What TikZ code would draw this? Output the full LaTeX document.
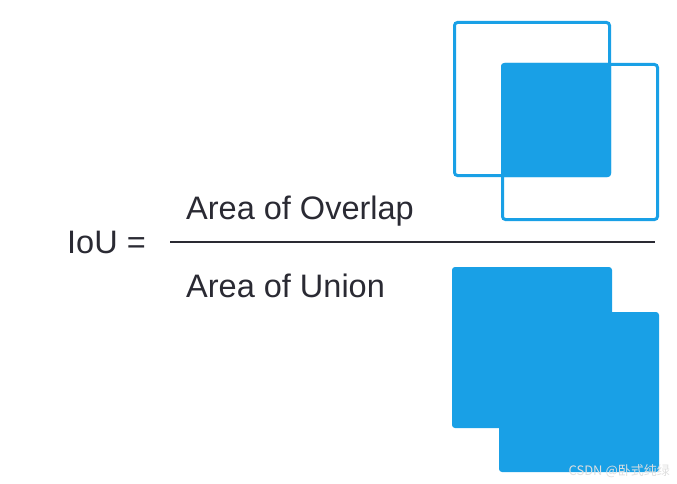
\documentclass[tikz,border=0pt]{standalone}
\usepackage{fontspec}
\setmainfont{Liberation Sans}
\newfontfamily\cjkfont{Noto Sans CJK SC}
\usetikzlibrary{positioning}
\definecolor{ioublue}{HTML}{19A0E6}
\definecolor{inkgray}{HTML}{2A2A33}
\tikzset{
	bigtext/.style={font=\fontsize{32.5}{32.5}\selectfont, text=inkgray, inner sep=0pt, anchor=base west}
}
\tikzset{
	boxline/.style={draw=ioublue, line width=3pt, rounded corners=3pt}
}
\tikzset{
	boxfill/.style={fill=ioublue, rounded corners=3pt}
}
\begin{document}
\begin{tikzpicture}[x=1pt, y=-1pt]
      \useasboundingbox (0,0) rectangle (677,484);

      % formula text
      \node[bigtext] (iou) at (67,253) {IoU =};
      \node[bigtext] (overlap) at (186,219) {Area of Overlap};
      \node[bigtext] (union) at (186,297) {Area of Union};

      % fraction bar
      \coordinate (barL) at (170,242);
      \coordinate (barR) at (655,242);
      \draw[inkgray, line width=2.5pt] (barL) -- (barR);

      % overlap: intersection filled, both boxes outlined
      \fill[boxfill] (501,63) rectangle (611,177);
      \draw[boxline] (454.5,22.5) rectangle (609.5,175.5);
      \draw[boxline] (502.5,64.5) rectangle (657.5,219.5);

      % union: both boxes filled
      \foreach \p/\q in {{(452,267)}/{(612,428)},{(499,312)}/{(659,472)}} {
        \fill[boxfill] \p rectangle \q;
      }

      % watermark
      \node[font=\cjkfont\fontsize{13}{13}\selectfont, text=white!75!gray, inner sep=0pt, anchor=base east] (mark) at (670,475) {CSDN @卧式纯绿};
    \end{tikzpicture}
\end{document}
